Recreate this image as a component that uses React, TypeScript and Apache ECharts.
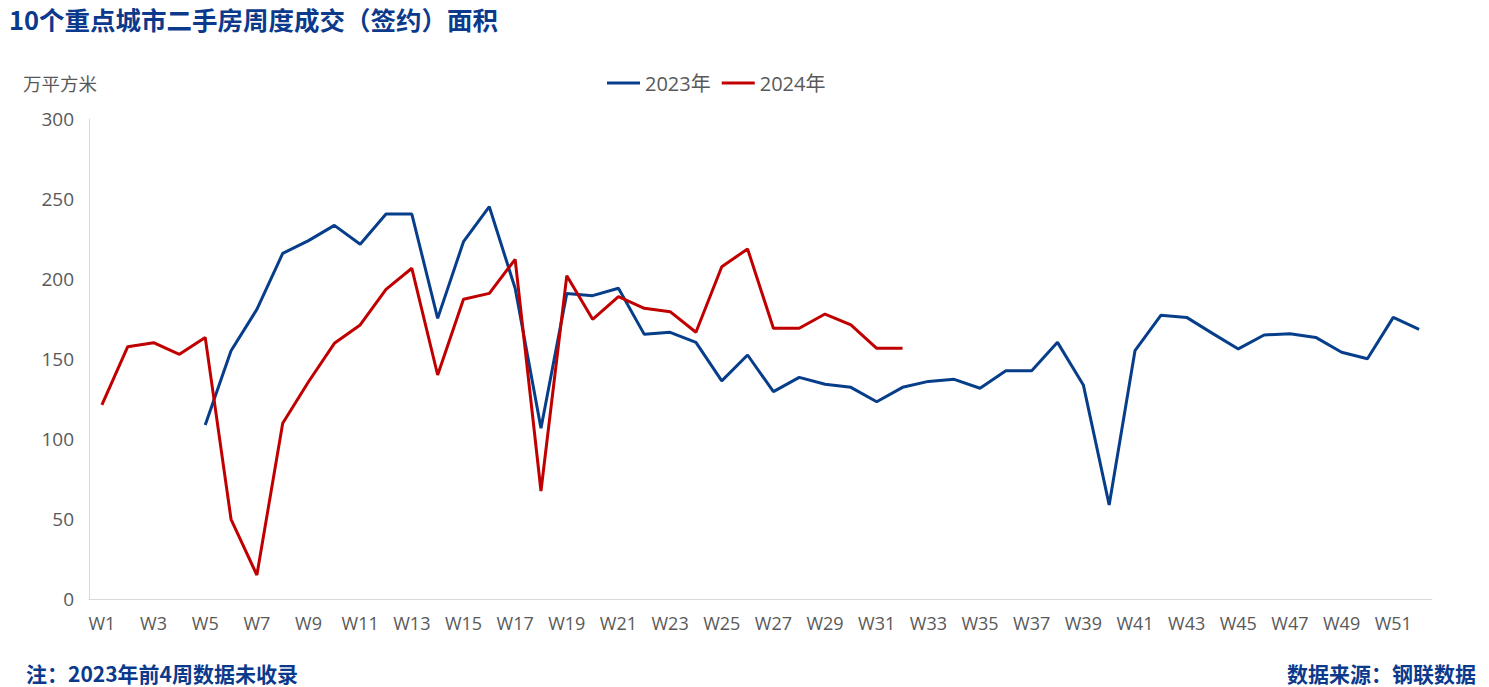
import React, { useEffect, useRef } from "react";
import * as echarts from "echarts";

const weeks: string[] = Array.from({ length: 52 }, (_, i) => `W${i + 1}`);

const series2023: (number | null)[] = [
  null, null, null, null, 108.8, 155.2, 181, 216, 224, 233.5,
  221.7, 240.6, 240.6, 175.4, 223.3, 245.2, 194.2, 106.7, 191, 189.6,
  194.2, 165.4, 166.7, 160.4, 136.3, 152.5, 129.6, 138.5, 134.2, 132.3,
  123.3, 132.3, 136, 137.3, 131.7, 142.7, 142.7, 160.4, 133.8, 58.8,
  155.2, 177.3, 176, 166, 156.3, 165, 165.8, 163.5, 154.2, 150.2,
  176, 168.5,
];

const series2024: number[] = [
  121.3, 157.7, 160.2, 152.9, 163.5, 49.8, 15, 109.8, 135.8, 159.8,
  171.3, 193.5, 206.7, 140, 187.3, 191, 212.3, 67.5, 202.1, 174.8,
  189, 181.7, 179.6, 166.7, 207.7, 218.8, 169.2, 169.2, 178.1, 171.3,
  156.7, 156.7,
];

const yTicks = { min: 0, max: 300, interval: 50 };

const BLUE = "#073E8A";
const RED = "#C00000";
const FONT = "'Noto Sans CJK SC', 'Noto Sans', sans-serif";
const NUMFONT = "'Open Sans', 'Noto Sans', 'Noto Sans CJK SC', sans-serif";

export default function App() {
  const ref = useRef<HTMLDivElement>(null);
  useEffect(() => {
    if (!ref.current) return;
    const chart = echarts.init(ref.current, null, { renderer: "svg" });
    chart.setOption({
      animation: false,
      backgroundColor: "#ffffff",
      textStyle: { fontFamily: FONT },
      title: [
        {
          text: "10个重点城市二手房周度成交（签约）面积",
          left: 9,
          top: 6,
          padding: 0,
          textStyle: { fontSize: 25.5, fontWeight: "bold", color: "#0B3A8C", fontFamily: FONT },
        },
        {
          text: "万平方米",
          left: 23,
          top: 74,
          padding: 0,
          textStyle: { fontSize: 18.5, fontWeight: "normal", color: "#595959", fontFamily: FONT },
        },
        {
          text: "注：2023年前4周数据未收录",
          left: 26,
          top: 662,
          padding: 0,
          textStyle: { fontSize: 21, lineHeight: 22, fontWeight: "bold", color: "#0B3A8C", fontFamily: FONT },
        },
        {
          text: "数据来源：钢联数据",
          right: 13,
          top: 662,
          padding: 0,
          textStyle: { fontSize: 21, lineHeight: 22, fontWeight: "bold", color: "#0B3A8C", fontFamily: FONT },
        },
      ],
      legend: {
        top: 73,
        left: 607,
        padding: 0,
        itemWidth: 33,
        itemHeight: 3,
        itemGap: 11,
        itemTextGap: 7,
        icon: "rect",
        textStyle: { fontSize: 20, color: "#595959", fontFamily: NUMFONT },
        data: ["2023年", "2024年"],
      },
      grid: { left: 89, right: 57, top: 119, bottom: 88 },
      xAxis: {
        type: "category",
        data: weeks,
        boundaryGap: true,
        axisLine: { lineStyle: { color: "#D9D9D9", width: 1 } },
        axisTick: { show: false },
        axisLabel: { interval: 1, fontSize: 18, color: "#595959", margin: 15, fontFamily: NUMFONT },
      },
      yAxis: {
        type: "value",
        min: yTicks.min,
        max: yTicks.max,
        interval: yTicks.interval,
        axisLine: { show: true, lineStyle: { color: "#D9D9D9", width: 1 } },
        axisTick: { show: false },
        splitLine: { show: false },
        axisLabel: { fontSize: 19, color: "#595959", margin: 15, fontFamily: NUMFONT },
      },
      series: [
        {
          name: "2023年",
          type: "line",
          data: series2023,
          showSymbol: false,
          symbol: "none",
          lineStyle: { color: BLUE, width: 3 },
          itemStyle: { color: BLUE },
        },
        {
          name: "2024年",
          type: "line",
          data: series2024,
          showSymbol: false,
          symbol: "none",
          lineStyle: { color: RED, width: 3 },
          itemStyle: { color: RED },
        },
      ],
    });
    return () => chart.dispose();
  }, []);
  return (
    <div
      ref={ref}
      style={{ position: "absolute", left: 0, top: 0, width: 1489, height: 687 }}
    />
  );
}
